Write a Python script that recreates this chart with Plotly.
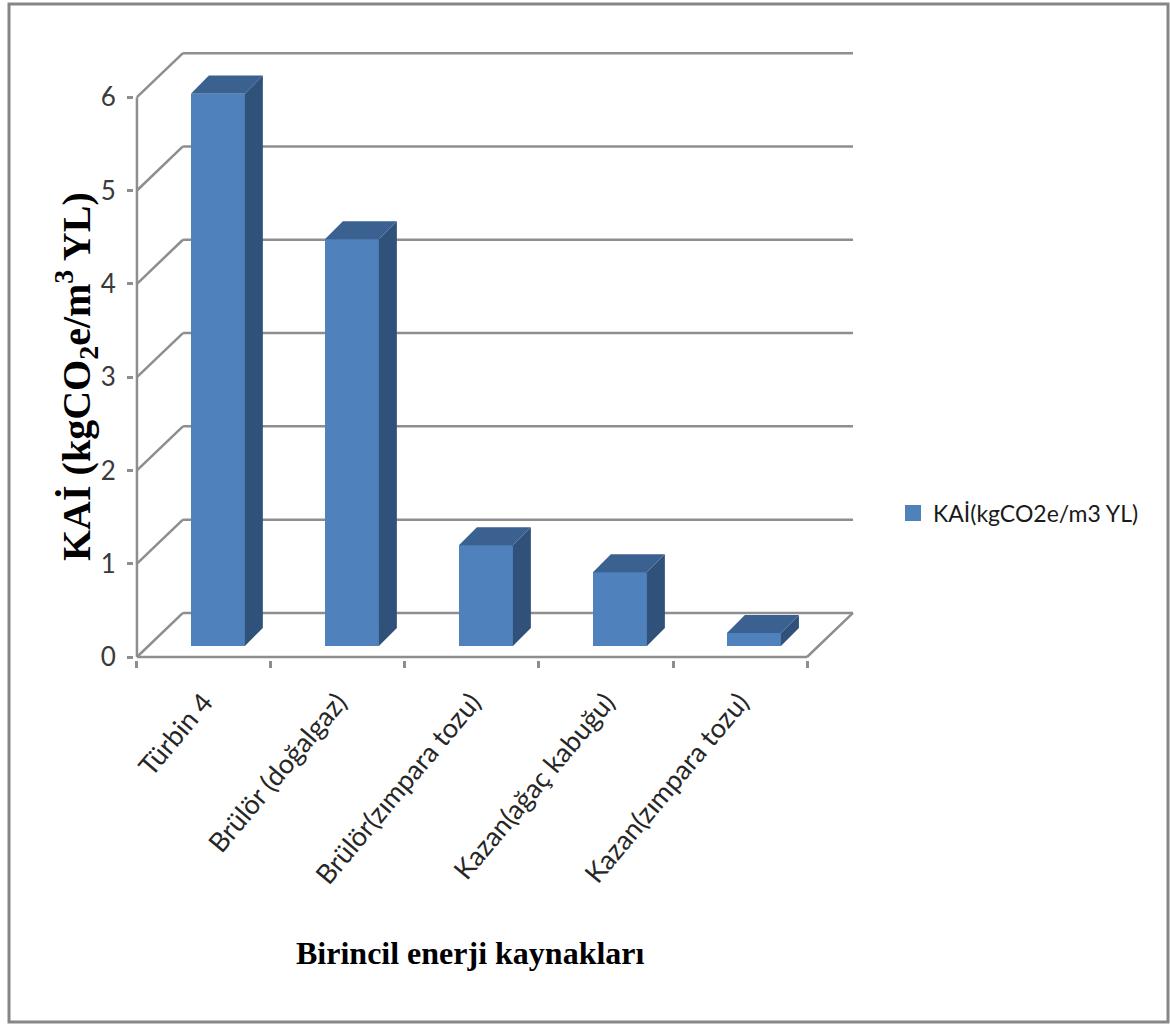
import plotly.graph_objects as go

categories = ["Türbin 4", "Brülör (doğalgaz)", "Brülör(zımpara tozu)", "Kazan(ağaç kabuğu)", "Kazan(zımpara tozu)"]
values = [5.92, 4.36, 1.08, 0.79, 0.14]
y_ticks = [0, 1, 2, 3, 4, 5, 6]
series_name = "KAİ(kgCO2e/m3 YL)"

FRONT = "#4F81BD"
SIDE = "#30527A"
TOP = "#3A6190"
GRID = "#8E8E8E"
TICK_FONT = "Lato"

positions = list(range(len(categories)))
BAR_W = 0.403
BAR_DX, BAR_DY = 0.104, 0.118     # shift of the bars into the floor
DEPTH_X, DEPTH_Y = 0.134, 0.193   # depth of a bar
WALL_X, WALL_Y = 0.343, 0.472     # depth of the chart box
x_lo, x_hi = positions[0] - 0.5, positions[-1] + 0.5

fig = go.Figure()

# Front faces
fig.add_trace(go.Bar(
    x=[p + BAR_DX for p in positions], y=values, base=[BAR_DY] * len(values),
    width=BAR_W, marker=dict(color=FRONT, line=dict(width=0)),
    name=series_name, showlegend=False, hoverinfo="skip",
))
# Legend key of the series
fig.add_trace(go.Scatter(
    x=[None], y=[None], mode="markers", name=series_name,
    marker=dict(symbol="square", size=16, color=FRONT), showlegend=True, hoverinfo="skip",
))

# Side and top faces derived from the values
for p, v in zip(positions, values):
    l = p + BAR_DX - BAR_W / 2
    r = p + BAR_DX + BAR_W / 2
    b = BAR_DY
    t = BAR_DY + v
    fig.add_trace(go.Scatter(
        x=[r, r + DEPTH_X, r + DEPTH_X, r, r], y=[b, b + DEPTH_Y, t + DEPTH_Y, t, b],
        mode="lines", fill="toself", fillcolor=SIDE, line=dict(width=0, color=SIDE),
        showlegend=False, hoverinfo="skip",
    ))
    fig.add_trace(go.Scatter(
        x=[l, r, r + DEPTH_X, l + DEPTH_X, l], y=[t, t, t + DEPTH_Y, t + DEPTH_Y, t],
        mode="lines", fill="toself", fillcolor=TOP, line=dict(width=0, color=TOP),
        showlegend=False, hoverinfo="skip",
    ))

# Box wireframe, below the bars
wire = dict(type="line", xref="x", yref="y", layer="below", line=dict(color=GRID, width=2.5))
shapes = []
for v in y_ticks:
    shapes.append(dict(wire, x0=x_lo, y0=v, x1=x_lo + WALL_X, y1=v + WALL_Y))
    shapes.append(dict(wire, x0=x_lo + WALL_X, y0=v + WALL_Y, x1=x_hi + WALL_X, y1=v + WALL_Y))
shapes.append(dict(wire, x0=x_lo, y0=y_ticks[0], x1=x_lo, y1=y_ticks[-1]))
shapes.append(dict(wire, x0=x_lo, y0=y_ticks[0], x1=x_hi, y1=y_ticks[0]))
shapes.append(dict(wire, x0=x_hi, y0=y_ticks[0], x1=x_hi + WALL_X, y1=y_ticks[0] + WALL_Y))

WIDTH, HEIGHT = 1170, 1025
L, R, T, B = 134, 857, 48, 660
px = lambda x: (x - L) / (R - L)
py = lambda y: (B - y) / (B - T)
# Outer frame of the picture
shapes.append(dict(type="rect", xref="paper", yref="paper", layer="above",
                   x0=px(9), x1=px(1168), y0=py(1022), y1=py(4),
                   line=dict(color="#868686", width=3)))

fig.update_layout(
    width=WIDTH, height=HEIGHT, autosize=False,
    margin=dict(l=L, r=WIDTH - R, t=T, b=HEIGHT - B, pad=0),
    paper_bgcolor="white", plot_bgcolor="white",
    shapes=shapes, bargap=0,
    font=dict(family=TICK_FONT, color="#262626"),
    xaxis=dict(
        range=[-0.522, 4.873], showgrid=False, zeroline=False, showline=False,
        tickmode="array", tickvals=positions, ticktext=categories, tickangle=-50,
        ticks="", ticklabelstandoff=20, tickfont=dict(family=TICK_FONT, size=27, color="#262626"),
        minor=dict(tickmode="array", tickvals=[p - 0.5 for p in positions] + [x_hi],
                   ticks="outside", ticklen=7, tickwidth=2.5, tickcolor=GRID, showgrid=False),
        automargin=False,
    ),
    yaxis=dict(
        range=[-0.032, 6.527], showgrid=False, zeroline=False, showline=False,
        tickmode="array", tickvals=y_ticks, ticks="outside", ticklen=6, tickwidth=2.5,
        ticklabelstandoff=6,
        tickcolor=GRID, tickfont=dict(family=TICK_FONT, size=26, color="#3a3a3a"),
        automargin=False,
    ),
    legend=dict(x=px(893), y=py(513), xanchor="left", yanchor="middle",
                font=dict(family=TICK_FONT, size=23, color="#1a1a1a"),
                bgcolor="rgba(0,0,0,0)"),
    annotations=[
        dict(text="KAİ (kgCO<sub>2</sub>e/m<sup>3</sup> YL)", xref="paper", yref="paper",
             x=px(76), y=py(377), textangle=-90, showarrow=False, xanchor="center", yanchor="middle",
             font=dict(family="Liberation Serif", size=40, color="black", weight="bold")),
        dict(text="Birincil enerji kaynakları", xref="paper", yref="paper",
             x=px(470), y=py(953), showarrow=False, xanchor="center", yanchor="middle",
             font=dict(family="Liberation Serif", size=32, color="black", weight="bold")),
    ],
)

fig.write_html("out.html", config={"displayModeBar": False},
               post_script="document.body.style.margin='0';")
